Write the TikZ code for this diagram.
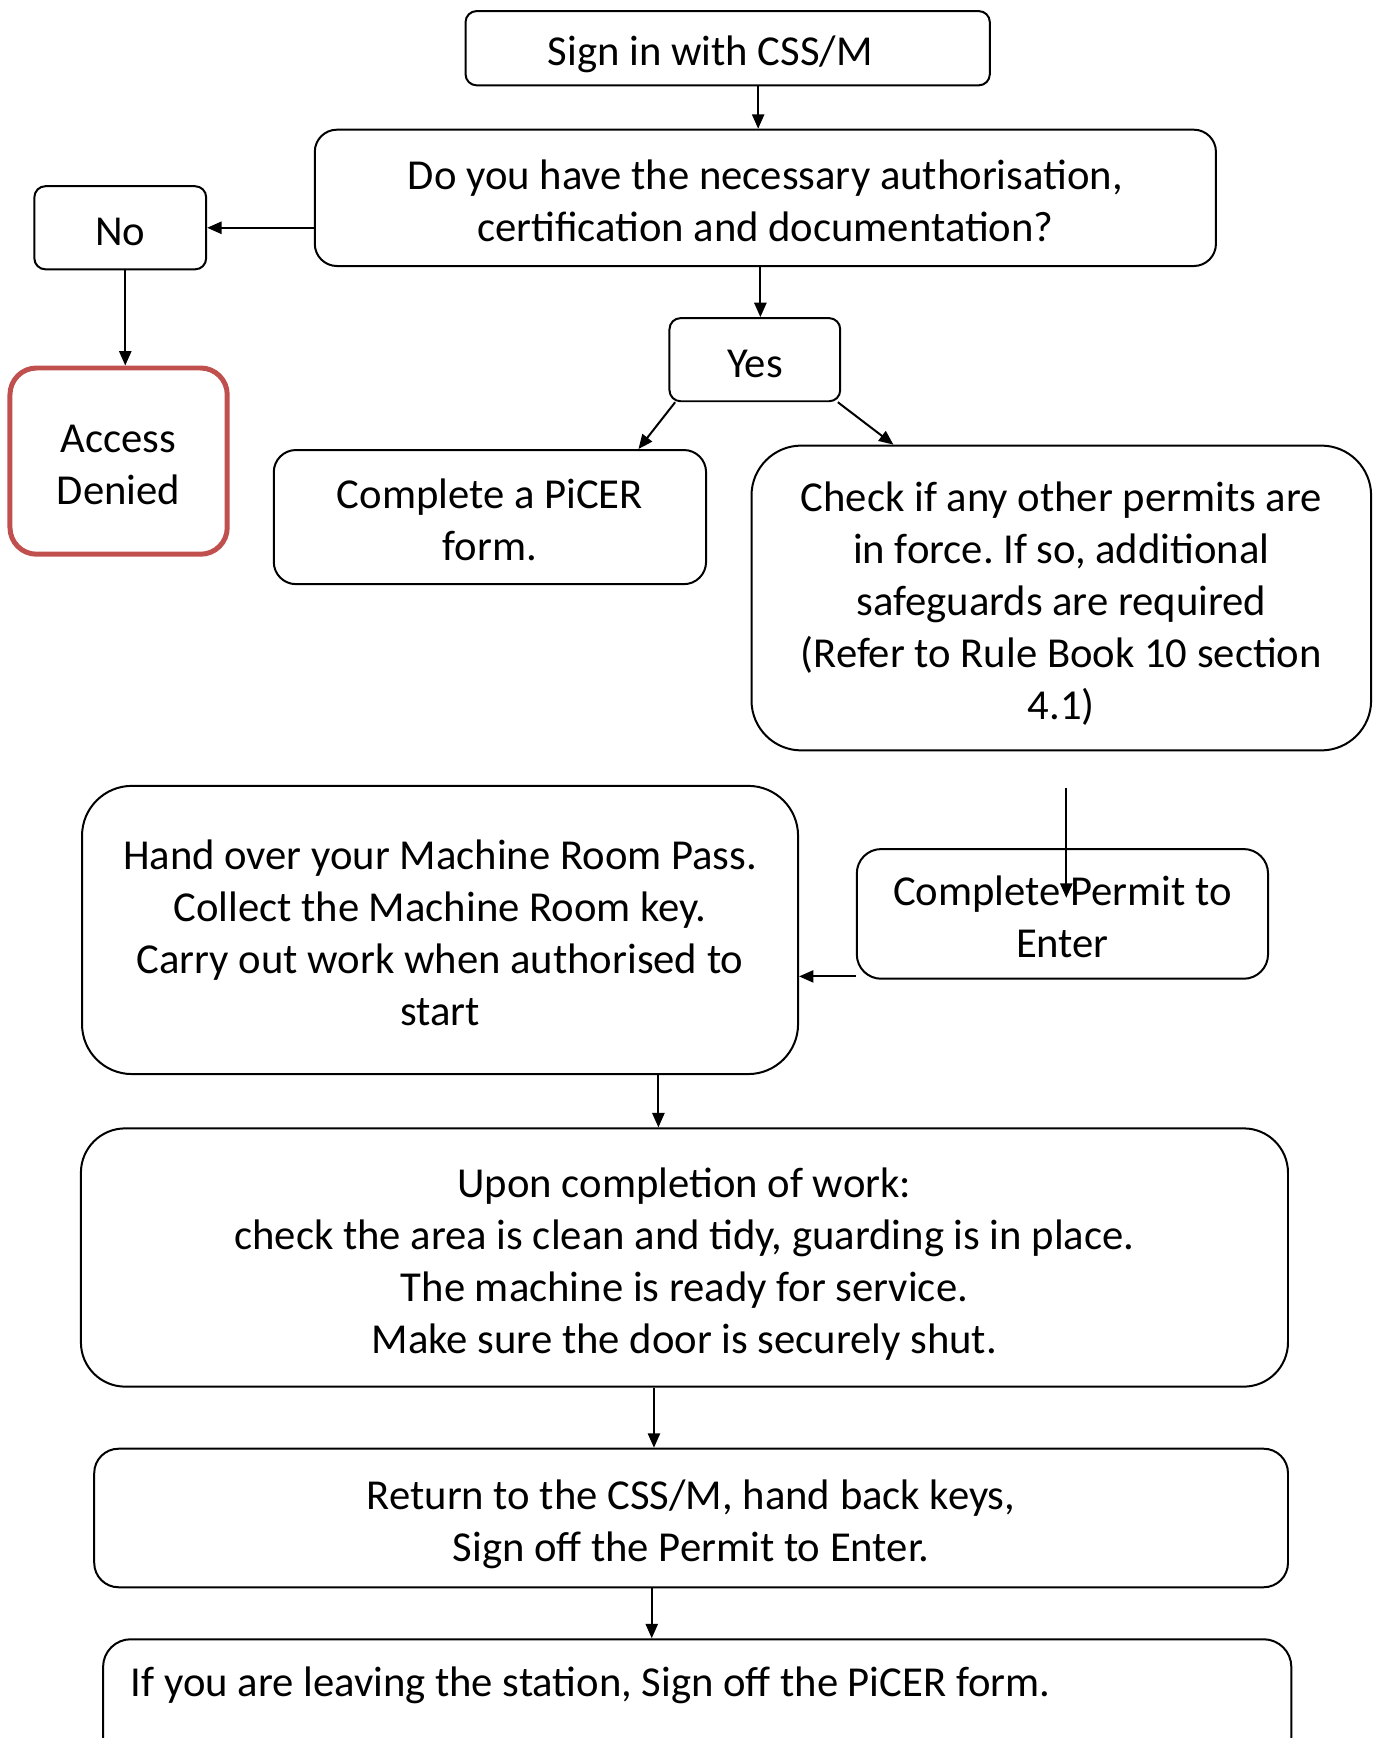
\documentclass[tikz,border=0pt]{standalone}
\usepackage{fontspec}
\setmainfont{Carlito}
\usetikzlibrary{arrows.meta}
\definecolor{deniedred}{HTML}{C0504D}
\frenchspacing

\begin{document}
\begin{tikzpicture}[x=1pt,y=-1pt,
    stage/.style 2 args={draw, line width=1.8pt, rounded corners=#1, inner sep=0pt,
      minimum width=#2, text width=#2-24pt, align=flush center,
      font=\fontsize{38.5}{47}\selectfont,
      execute at begin node={\rule{0pt}{40pt}},
      execute at end node={\rule[-8pt]{0pt}{8pt}}},
    flow/.style={-{Triangle[length=13pt,width=11pt]}, line width=1.8pt}]
        \useasboundingbox (0,0) rectangle (1245,1568);
        % sign in and the question
        \node[stage={10pt}{473pt}, minimum height=67pt] (signin) at (656.5,43.5) {Sign in with CSS/M\hspace*{31pt}};
        \node[stage={20pt}{813pt}, minimum height=123pt] (question) at (690.5,178.5)
            {Do you have the necessary authorisation,\\certification and documentation?};
        % the no branch
        \node[stage={10pt}{155pt}, minimum height=75pt] (no) at (108.5,205.5) {No};
        \node[stage={24pt}{196pt}, draw=deniedred, line width=4.5pt, minimum height=168pt]
            (denied) at (107,416) {Access\\Denied};
        % the yes branch
        \node[stage={10pt}{154pt}, minimum height=75pt] (yes) at (681,324.5) {Yes};
        \node[stage={20pt}{390pt}, minimum height=121pt] (picer) at (442,466.5)
            {Complete a PiCER\\form.};
        \node[stage={45pt}{559pt}, minimum height=275pt] (check) at (957.5,539.5)
            {Check if any other permits are\\in force. If so, additional\\safeguards are required\\(Refer to Rule Book 10 section\\4.1)};
        % the permit and the work
        \node[stage={22pt}{371pt}, minimum height=117pt] (permit) at (958.5,824.5)
            {Complete Permit to\\Enter};
        \node[stage={45pt}{646pt}, minimum height=260pt] (handover) at (397,839)
            {Hand over your Machine Room Pass.\\Collect the Machine Room key.\\Carry out work when authorised to\\start};
        % finishing off
        \node[stage={40pt}{1089pt}, minimum height=233pt] (upon) at (617.5,1134.5)
            {Upon completion of work:\\check the area is clean and tidy, guarding is in place.\\The machine is ready for service.\\Make sure the door is securely shut.};
        \node[stage={22pt}{1077pt}, minimum height=125pt] (return) at (623.5,1369.5)
            {Return to the CSS/M, hand back keys,\\Sign off the Permit to Enter.};
        % the last box runs off the page
        \node[stage={25pt}{1072pt}, anchor=north, align=flush left, text width=1022pt, inner xsep=25pt,
            execute at begin node={}, execute at end node={},
            text height=52pt, text depth=120pt] (leave) at (629,1478)
            {If you are leaving the station, Sign off the PiCER form.};
        \coordinate (permtop) at (962,711);

        % arrows
        \draw[flow] (signin.south -| 684,0) -- (question.north -| 684,0);
        \draw[flow] (question.west |- no.east) -- (no.east);
        \draw[flow] (no.south -| 113,0) -- (denied.north -| 113,0);
        \draw[flow] (question.south -| 686,0) -- (yes.north -| 686,0);
        \draw[flow] ([xshift=6pt]yes.south west) -- (picer.north -| 576,0);
        \draw[flow] ([xshift=-3pt]yes.south east) -- (check.north -| 806,0);
        \draw[flow] (permtop) -- ([yshift=14.5pt]permtop |- permit.center);
        \draw[flow] ([yshift=3pt]permit.south west) -- ([yshift=3pt]permit.south west -| handover.east);
        \draw[flow] (handover.south -| 594,0) -- (upon.north -| 594,0);
        \draw[flow] (upon.south -| 590,0) -- (return.north -| 590,0);
        \draw[flow] (return.south -| 588,0) -- (leave.north -| 588,0);
\end{tikzpicture}
\end{document}
